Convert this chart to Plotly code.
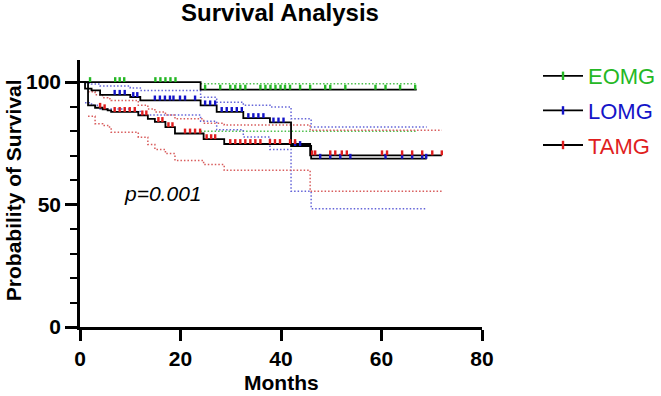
import numpy as np
import plotly.graph_objects as go

# ---------------- data ----------------
groups = ["EOMG", "LOMG", "TAMG"]

# EOMG
eomg_t = [0, 24.0]
eomg_s = [100, 96.9]
eomg_end = 67.0
eomg_ci_t = [24.0]
eomg_hi = [99.3]
eomg_lo = [79.9]
eomg_cens = [2.0, 7.0, 7.9, 8.8, 15.0, 16.0, 17.0, 18.0, 19.0, 24.9, 27.9, 29.9, 30.9,
             31.9, 32.9, 35.9, 36.9, 37.9, 38.9, 39.9, 40.8, 41.8, 43.8, 45.8, 48.8,
             49.8, 52.8, 58.8, 60.8, 63.7, 66.7]

# LOMG
lomg_t = [0, 1.0, 2.3, 4.0, 10.0, 12.0, 24.0, 27.2, 32.5, 37.8, 42.0, 46.0]
lomg_s = [100, 97.3, 96.6, 94.8, 93.9, 92.5, 90.5, 87.8, 85.3, 83.5, 73.9, 68.7]
lomg_end = 69.0
lomg_ci_t = [1.0, 2.3, 4.0, 10.0, 12.0, 24.0, 27.2, 32.5, 37.8, 42.0, 46.0]
lomg_hi = [99.6, 99.2, 98.4, 97.6, 96.5, 93.8, 91.8, 90.5, 89.8, 85.0, 81.6]
lomg_lo = [91.5, 90.5, 89.0, 88.0, 86.5, 84.0, 80.5, 77.6, 72.5, 55.4, 48.3]
lomg_cens = [6.9, 7.9, 8.9, 10.6, 11.4, 14.9, 15.9, 16.9, 17.9, 18.6, 19.9, 20.9, 22.9,
             24.9, 25.9, 26.9, 28.2, 29.2, 30.2, 31.2, 32.2, 33.5, 34.5, 35.5, 36.5,
             38.5, 39.5, 40.5, 42.8, 43.8, 47.8, 49.8, 51.8, 53.8, 60.8, 64.1, 66.1,
             68.1, 68.9]

# TAMG
tamg_t = [0, 1.6, 3.0, 4.5, 5.5, 6.2, 11.6, 13.5, 14.9, 17.0, 18.9, 24.6, 28.7, 45.8]
tamg_s = [100, 90.5, 89.5, 88.9, 88.4, 87.8, 86.4, 85.0, 83.7, 81.6, 79.0, 76.7, 74.7, 70.1]
tamg_end = 72.0
tamg_ci_t = [1.6, 3.0, 4.5, 5.5, 6.2, 11.6, 13.5, 14.9, 17.0, 18.9, 24.6, 28.7, 45.8]
tamg_hi = [96.0, 94.8, 93.6, 93.2, 92.5, 90.5, 89.0, 87.8, 86.5, 85.0, 83.2, 82.5, 80.3]
tamg_lo = [86.0, 83.0, 82.3, 81.6, 79.5, 77.5, 74.5, 72.5, 70.8, 68.0, 66.3, 64.0, 55.4]
tamg_cens = [4.0, 4.9, 6.9, 7.9, 8.9, 9.9, 10.9, 12.4, 13.2, 15.6, 16.4, 17.6, 18.4,
             20.9, 21.9, 22.9, 23.9, 25.2, 26.1, 26.9, 29.9, 30.9, 31.9, 32.9, 33.9,
             34.9, 35.9, 37.8, 38.8, 39.8, 41.8, 42.8, 46.2, 46.8, 49.8, 50.8, 52.1,
             53.1, 60.1, 61.1, 64.1, 66.1, 68.1, 70.1, 72.0]

x_ticks = [0, 20, 40, 60, 80]
y_ticks = [0, 50, 100]
p_text = "p=0.001"

colors = {"EOMG": "#25b825", "LOMG": "#1414c8", "TAMG": "#e01e1e"}
ci_colors = {"EOMG": "#4cbf4c", "LOMG": "#6464d8", "TAMG": "#d85c5c"}

data = {
    "EOMG": (eomg_t, eomg_s, eomg_end, eomg_ci_t, eomg_hi, eomg_lo, eomg_cens),
    "LOMG": (lomg_t, lomg_s, lomg_end, lomg_ci_t, lomg_hi, lomg_lo, lomg_cens),
    "TAMG": (tamg_t, tamg_s, tamg_end, tamg_ci_t, tamg_hi, tamg_lo, tamg_cens),
}

FONT = "Liberation Sans, Arial, sans-serif"

# plot area geometry (pixels)
W, H = 661, 396
L, R = 80, 482
T, B = 60, 326.7


def px_x(px):
    return (px - L) / (R - L)


def px_y(py):
    return (B - py) / (B - T)


fig = go.Figure()

# confidence bands (dotted)
for g in groups:
    t, s, end, ct, hi, lo, cens = data[g]
    for band in (hi, lo):
        fig.add_trace(go.Scatter(
            x=list(ct) + [end], y=list(band) + [band[-1]],
            mode="lines", line=dict(color=ci_colors[g], width=1.5, dash="1.5px,2px", shape="hv"),
            showlegend=False, hoverinfo="skip"))

# survival curves
for g in groups:
    t, s, end, ct, hi, lo, cens = data[g]
    fig.add_trace(go.Scatter(
        x=list(t) + [end], y=list(s) + [s[-1]],
        mode="lines", line=dict(color="black", width=1.8, shape="hv"),
        showlegend=False, hoverinfo="skip"))

# censor ticks
for g in groups:
    t, s, end, ct, hi, lo, cens = data[g]
    ta = np.array(t)
    sa = np.array(s)
    idx = np.searchsorted(ta, np.array(cens), side="right") - 1
    cy = sa[idx]
    fig.add_trace(go.Scatter(
        x=cens, y=cy, mode="markers",
        marker=dict(size=1, color=colors[g], opacity=0),
        error_y=dict(type="data", symmetric=False, array=[2.0] * len(cens),
                     arrayminus=[0] * len(cens), width=0, thickness=2.4, color=colors[g]),
        showlegend=False, hoverinfo="skip"))

# legend entries
for g in groups:
    fig.add_trace(go.Scatter(
        x=[None], y=[None], mode="lines+markers",
        name=f"<span style='color:{colors[g]}'>{g}</span>",
        legendgroup=g,
        line=dict(color="black", width=1.8),
        marker=dict(symbol="line-ns-open", size=6, color=colors[g],
                    line=dict(color=colors[g], width=2.4))))

annotations = [
    dict(text=f"<i>{p_text}</i>", x=8.3, y=54.6, xref="x", yref="y",
         xanchor="left", yanchor="middle", showarrow=False,
         font=dict(family=FONT, size=21, color="black")),
    dict(text="<b>Probability of Survival</b>", x=px_x(13), y=px_y(190),
         xref="paper", yref="paper", textangle=-90, showarrow=False,
         xanchor="center", yanchor="middle",
         font=dict(family=FONT, size=21, color="black")),
    dict(text="<b>Months</b>", x=px_x(281), y=px_y(382),
         xref="paper", yref="paper", showarrow=False,
         xanchor="center", yanchor="middle",
         font=dict(family=FONT, size=21, color="black")),
]

fig.update_layout(
    width=W, height=H,
    margin=dict(l=L, r=W - R, t=T, b=H - B, pad=0, autoexpand=False),
    paper_bgcolor="white", plot_bgcolor="white",
    title=dict(text="<b>Survival Analysis</b>", x=280 / W, xanchor="center",
               y=1 - 13 / H, yanchor="middle", yref="container",
               font=dict(family=FONT, size=24, color="black")),
    font=dict(family=FONT, color="black"),
    showlegend=True,
    legend=dict(x=px_x(538), y=px_y(55), xanchor="left", yanchor="top",
                xref="paper", yref="paper",
                font=dict(family=FONT, size=22),
                tracegroupgap=3, itemwidth=40, bgcolor="rgba(0,0,0,0)"),
    annotations=annotations,
)

fig.update_xaxes(
    range=[0, 80], tickvals=x_ticks, ticktext=[f"<b>{v}</b>" for v in x_ticks],
    showgrid=False, zeroline=False, showline=True, linecolor="black", linewidth=2.5,
    ticks="outside", ticklen=11, tickwidth=2.5, tickcolor="black",
    tickfont=dict(family=FONT, size=21, color="black"))

fig.update_yaxes(
    range=[0, 109], tickvals=y_ticks, ticktext=[f"<b>{v}</b>" for v in y_ticks],
    showgrid=False, zeroline=False, showline=True, linecolor="black", linewidth=2.5,
    ticks="outside", ticklen=12, tickwidth=2.5, tickcolor="black",
    tickfont=dict(family=FONT, size=21, color="black"),
    minor=dict(dtick=10, tick0=0, ticks="outside", ticklen=7, tickwidth=2.2,
               tickcolor="black", showgrid=False))

fig.write_html("out.html")
